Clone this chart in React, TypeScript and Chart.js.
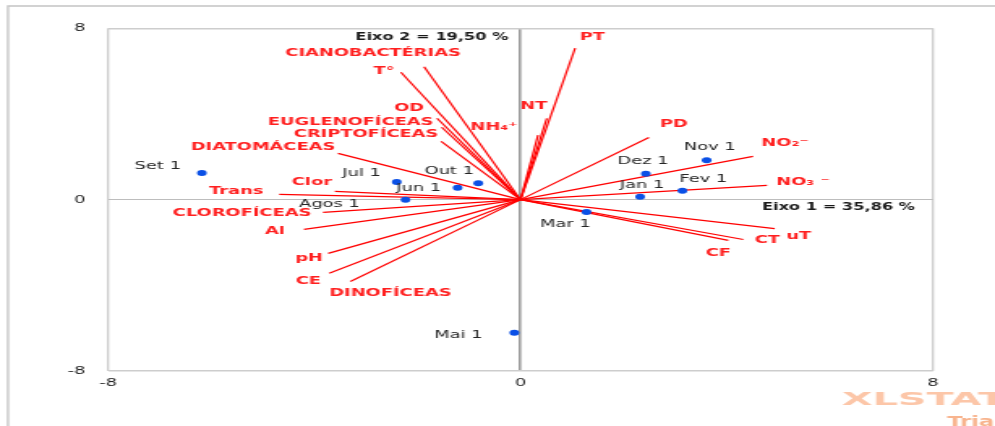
import { useEffect, useRef } from 'react';
import { Chart, registerables } from 'chart.js';

Chart.register(...registerables);

// Sample scores (observations) on axes 1 and 2
const sampleNames = ['Set 1', 'Jul 1', 'Jun 1', 'Out 1', 'Agos 1', 'Mai 1', 'Dez 1', 'Nov 1', 'Jan 1', 'Fev 1', 'Mar 1'];
const sampleX = [-6.18, -2.4, -1.22, -0.82, -2.23, -0.12, 2.43, 3.61, 2.32, 3.14, 1.28];
const sampleY = [1.24, 0.82, 0.56, 0.76, 0.0, -6.21, 1.21, 1.84, 0.14, 0.42, -0.58];

// Variable loadings, drawn as vectors from the origin
const variableNames = [
  'CIANOBACTÉRIAS', 'T°', 'OD', 'EUGLENOFÍCEAS', 'CRIPTOFÍCEAS', 'DIATOMÁCEAS', 'Clor', 'Trans',
  'CLOROFÍCEAS', 'Al', 'pH', 'CE', 'DINOFÍCEAS', 'PT', 'NT', 'NH₄⁺', 'PD', 'NO₂⁻', 'NO₃ ⁻', 'uT', 'CT', 'CF',
];
const variableX = [-1.87, -2.32, -1.62, -1.53, -1.54, -3.54, -3.6, -4.68, -3.83, -4.2, -3.73, -3.71, -3.3, 1.06, 0.51, 0.34, 2.49, 4.51, 4.78, 4.93, 4.32, 4.03];
const variableY = [6.2, 5.95, 3.8, 3.38, 2.72, 2.16, 0.39, 0.25, -0.59, -1.39, -2.51, -3.44, -3.82, 7.07, 3.8, 3.01, 2.9, 2.02, 0.67, -1.35, -1.86, -1.9];

const axisTicks = [-8, 0, 8];
const axis1Title = 'Eixo 1 = 35,86 %';
const axis2Title = 'Eixo 2 = 19,50 %';

// Label placement relative to each mark, in screen pixels [dx, dy]
const variableLabelOffsets: [number, number][] = [
  [-51, -14], [-17, -1], [-28, -10], [-91, -5], [-75, -7], [-75, -6], [-23, -9], [-43, -3],
  [-81, 1], [-29, 2], [-19, 5], [-21, 8], [40, 12], [17, -11], [-13, -12], [-44, -8], [25, -13],
  [32, -13], [36, -3], [24, 8], [24, 1], [-10, 13],
];
const sampleLabelOffsets: [number, number][] = [
  [-44, -7], [-35, -9], [-39, 0], [-29, -12], [-76, 4], [-56, 2], [-3, -13], [3, -13], [2, -12], [21, -12], [-21, 12],
];

const PAGE_W = 995;
const PAGE_H = 426;
const CANVAS_W = 614;
const STRETCH = PAGE_W / CANVAS_W;
const FONT = '"DejaVu Sans", Verdana, sans-serif';

const biplotDecor = {
  id: 'biplotDecor',
  beforeDraw(chart: any) {
    const { ctx } = chart;
    ctx.save();
    ctx.fillStyle = '#ffffff';
    ctx.fillRect(0, 0, chart.width, chart.height);
    ctx.strokeStyle = '#c4c4c4';
    ctx.lineWidth = 1.3;
    ctx.beginPath();
    ctx.moveTo(8 / STRETCH, PAGE_H);
    ctx.lineTo(8 / STRETCH, 6);
    ctx.lineTo(chart.width, 6);
    ctx.stroke();
    ctx.restore();
  },
  afterDatasetsDraw(chart: any) {
    const { ctx, chartArea } = chart;
    const x = chart.scales.x;
    const y = chart.scales.y;
    ctx.save();
    ctx.textAlign = 'center';
    ctx.textBaseline = 'middle';

    ctx.font = `bold 11px ${FONT}`;
    ctx.fillStyle = '#ff1f1f';
    variableNames.forEach((name, i) => {
      const [dx, dy] = variableLabelOffsets[i];
      ctx.fillText(name, x.getPixelForValue(variableX[i]) + dx / STRETCH, y.getPixelForValue(variableY[i]) + dy);
    });

    ctx.font = `11px ${FONT}`;
    ctx.fillStyle = '#262626';
    sampleNames.forEach((name, i) => {
      const [dx, dy] = sampleLabelOffsets[i];
      ctx.fillText(name, x.getPixelForValue(sampleX[i]) + dx / STRETCH, y.getPixelForValue(sampleY[i]) + dy);
    });

    ctx.font = `bold 10px ${FONT}`;
    ctx.fillStyle = '#1a1a1a';
    ctx.textAlign = 'right';
    ctx.fillText(axis2Title, x.getPixelForValue(0) - 12 / STRETCH, chartArea.top + 9);
    ctx.fillText(axis1Title, chartArea.right - 18 / STRETCH, y.getPixelForValue(0) + 8);
    ctx.restore();
  },
  afterDraw(chart: any) {
    const { ctx } = chart;
    ctx.save();
    ctx.textAlign = 'left';
    ctx.textBaseline = 'alphabetic';
    ctx.font = `bold 17px ${FONT}`;
    ctx.fillStyle = '#fcc6a8';
    ctx.translate(842 / STRETCH, 405);
    ctx.scale(1.44, 1);
    ctx.fillText('XLSTAT', 0, 0);
    ctx.restore();
    ctx.save();
    ctx.font = `bold 14px ${FONT}`;
    ctx.fillStyle = '#f8b48e';
    ctx.textBaseline = 'alphabetic';
    ctx.fillText('Trial', 947 / STRETCH, 425.5);
    ctx.restore();
  },
};

export default function App() {
  const canvasRef = useRef<HTMLCanvasElement | null>(null);

  useEffect(() => {
    if (!canvasRef.current) return;

    const vectorSets = variableNames.map((name, i) => ({
      label: name,
      data: [
        { x: 0, y: 0 },
        { x: variableX[i], y: variableY[i] },
      ],
      showLine: true,
      borderColor: '#ff0000',
      borderWidth: 1.2,
      pointRadius: 0,
      order: 1,
    }));

    const chart = new Chart(canvasRef.current, {
      type: 'scatter',
      data: {
        datasets: [
          {
            label: 'Observações',
            data: sampleX.map((v, i) => ({ x: v, y: sampleY[i] })),
            pointRadius: 3,
            pointBackgroundColor: '#0a50e6',
            pointBorderWidth: 0,
            order: 0,
          } as any,
          ...vectorSets,
        ],
      },
      options: {
        responsive: false,
        animation: false,
        layout: {
          padding: { left: 0, right: CANVAS_W - 933 / STRETCH, top: 28.3, bottom: 0 },
        },
        plugins: {
          legend: { display: false },
          tooltip: { enabled: false },
        },
        scales: {
          x: {
            type: 'linear',
            min: -8,
            max: 8,
            afterFit: (axis: any) => {
              axis.height = PAGE_H - 371;
            },
            afterBuildTicks: (axis: any) => {
              axis.ticks = axisTicks.map((v) => ({ value: v }));
            },
            border: { display: false },
            grid: {
              drawTicks: false,
              color: (c: any) => (c.tick && c.tick.value === 0 ? '#9c9c9c' : '#cdcdcd'),
              lineWidth: (c: any) => (c.tick && c.tick.value === 0 ? 1.6 : 1.3),
            },
            ticks: {
              padding: 6,
              color: '#262626',
              font: { family: FONT, size: 11 },
            },
          },
          y: {
            type: 'linear',
            min: -8,
            max: 8,
            afterFit: (axis: any) => {
              axis.width = 108 / STRETCH;
            },
            afterBuildTicks: (axis: any) => {
              axis.ticks = axisTicks.map((v) => ({ value: v }));
            },
            border: { display: false },
            grid: {
              drawTicks: false,
              color: (c: any) => (c.tick && c.tick.value === 0 ? '#bdbdbd' : '#cdcdcd'),
              lineWidth: (c: any) => (c.tick && c.tick.value === 0 ? 1 : 1.5),
            },
            ticks: {
              padding: 14,
              color: '#262626',
              font: { family: FONT, size: 11 },
            },
          },
        },
      },
      plugins: [biplotDecor],
    });

    return () => chart.destroy();
  }, []);

  return (
    <div
      style={{
        position: 'absolute',
        left: 0,
        top: 0,
        width: PAGE_W,
        height: PAGE_H,
        overflow: 'hidden',
        background: '#ffffff',
      }}
    >
      <div style={{ width: CANVAS_W, height: PAGE_H, transform: `scaleX(${STRETCH})`, transformOrigin: '0 0' }}>
        <canvas ref={canvasRef} width={CANVAS_W} height={PAGE_H} style={{ display: 'block' }} />
      </div>
    </div>
  );
}
